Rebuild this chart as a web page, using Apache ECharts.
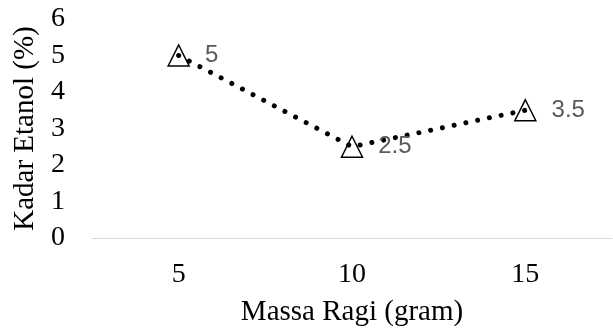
<!DOCTYPE html>
<html>
<head>
<meta charset="utf-8">
<script src="https://cdn.jsdelivr.net/npm/echarts@6/dist/echarts.min.js"></script>
<style>html,body{margin:0;padding:0;background:#fff;}#c{width:613px;height:332px;}</style>
</head>
<body>
<div id="c"></div>
<script>
var categories = ['5', '10', '15'];
var kadarEtanol = [5, 2.5, 3.5];
var xAxisName = 'Massa Ragi (gram)';
var yAxisName = 'Kadar Etanol (%)';

var chart = echarts.init(document.getElementById('c'), null, {renderer: 'canvas'});
var serif = '"Liberation Serif", "Times New Roman", serif';
chart.setOption({
  animation: false,
  backgroundColor: '#ffffff',
  grid: {left: 92, right: 1, top: 19, bottom: 93},
  xAxis: {
    type: 'category',
    data: categories,
    boundaryGap: true,
    name: xAxisName,
    nameLocation: 'middle',
    nameGap: 60,
    nameTextStyle: {fontFamily: serif, fontSize: 29, color: '#000'},
    axisLine: {lineStyle: {color: '#d9d9d9', width: 1}},
    axisTick: {show: false},
    axisLabel: {fontFamily: serif, fontSize: 28, color: '#000', margin: 23}
  },
  yAxis: {
    type: 'value',
    min: 0, max: 6, interval: 1,
    name: yAxisName,
    nameLocation: 'middle',
    nameGap: 49,
    nameTextStyle: {fontFamily: serif, fontSize: 29, color: '#000'},
    axisLine: {show: false},
    axisTick: {show: false},
    splitLine: {show: false},
    axisLabel: {fontFamily: serif, fontSize: 28, color: '#000', margin: 27}
  },
  series: [{
    type: 'line',
    data: kadarEtanol,
    symbol: 'triangle',
    symbolSize: 21,
    itemStyle: {color: 'rgba(0,0,0,0)', borderColor: '#000', borderWidth: 1.5},
    lineStyle: {color: '#000', width: 5, type: [0.01, 12], cap: 'round'},
    label: {
      show: true,
      position: 'right',
      distance: 15,
      fontFamily: '"Liberation Sans", Arial, sans-serif',
      fontSize: 24,
      color: '#595959'
    }
  }]
});
</script>
</body>
</html>
